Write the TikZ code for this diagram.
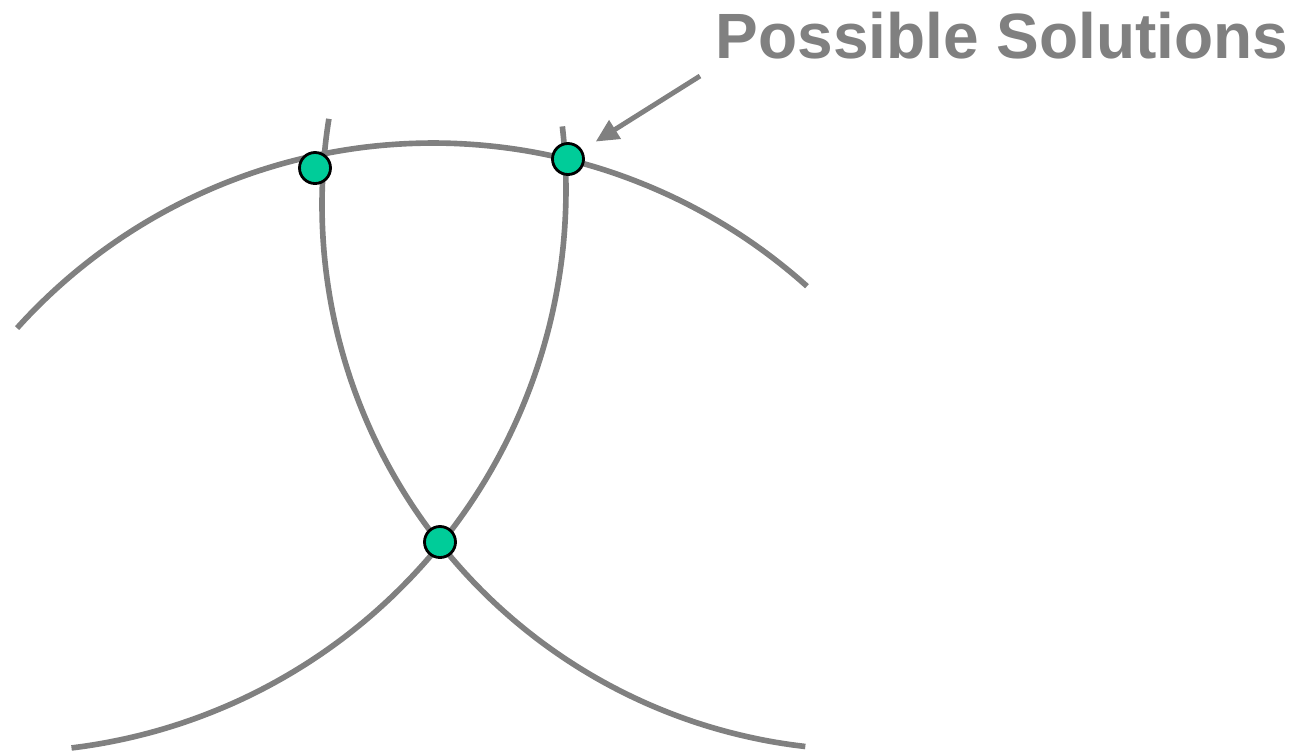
\documentclass[tikz,border=0pt]{standalone}
\usepackage{fontspec}
\usetikzlibrary{arrows.meta}
\newfontfamily\solfont{Liberation Sans}
\definecolor{dotgreen}{RGB}{0,204,153}
\definecolor{linegray}{RGB}{128,128,128}

\tikzset{
    ring/.style={draw=linegray, line width=1.6pt},
    dot/.style={circle, draw=black, line width=0.8pt, fill=dotgreen, minimum size=0.31cm, inner sep=0pt},
    pointer/.style={draw=linegray, line width=1.4pt, -{Triangle[length=6.5pt,width=6pt]}, shorten >=4.5pt}
}

\begin{document}
\begin{tikzpicture}[x=0.01cm, y=-0.01cm]
            \useasboundingbox (0,0) rectangle (1302,753);

            % the three range circles
            \foreach \cx/\cy/\r/\a/\b in {433/703/560/-137.97/-48.1, 867/205/545/96.5/189.1, 4/190/562/-6.5/83.1} {
                \draw[ring] plot[variable=\t, domain=\a:\b, samples=80, smooth] ({\cx+\r*cos(\t)},{\cy+\r*sin(\t)});
            }

            % crossing points
            \foreach \n/\x/\y in {s1/315/168, s2/568/159, s3/440/542} {
                \node[dot] (\n) at (\x,\y) {};
            }

            \node[anchor=base, text=linegray, inner sep=0pt] (sol) at (1002,58)
                {\solfont\bfseries\fontsize{18.2}{21}\selectfont Possible Solutions};

            \coordinate (tail) at (700,76);
            \draw[pointer] (tail) -- (s2);
        \end{tikzpicture}
\end{document}
